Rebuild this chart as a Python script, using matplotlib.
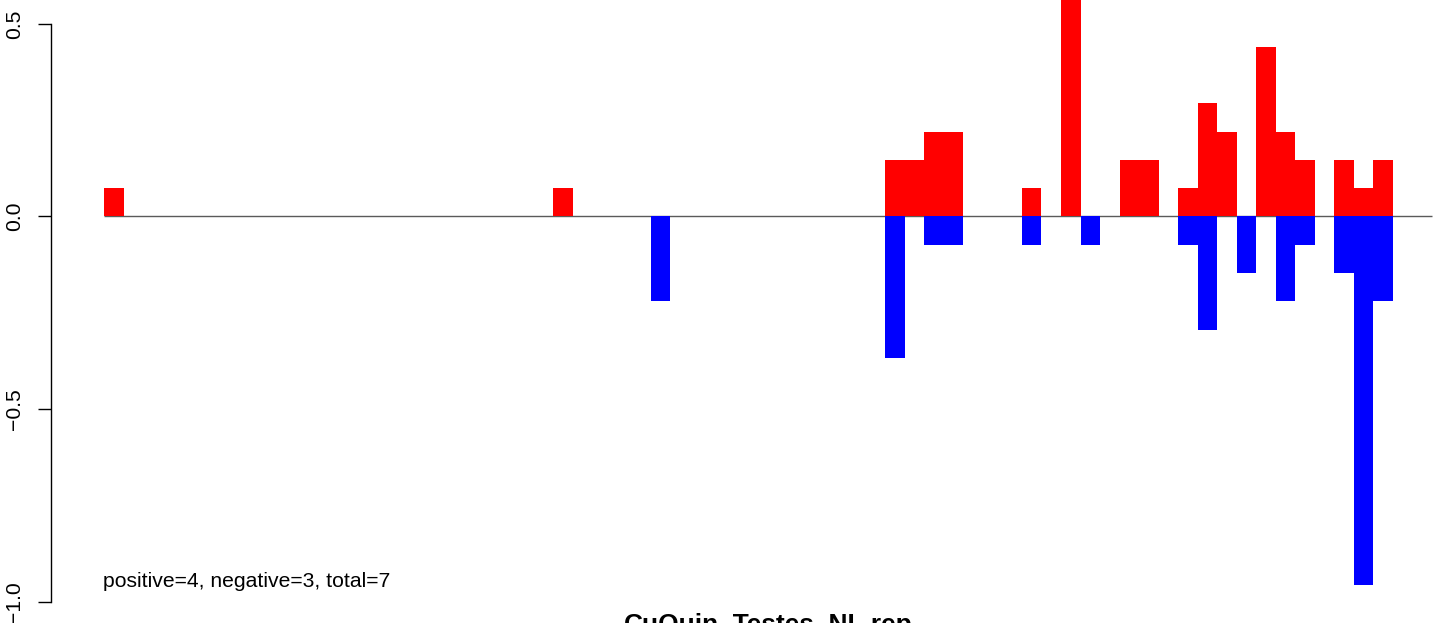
import matplotlib
matplotlib.use("Agg")
import matplotlib.pyplot as plt
import numpy as np

plt.rcParams['font.family'] = ['Liberation Sans', 'DejaVu Sans']

# bin index (0..67) and values
n_bins = 68
pos_bins = [0, 23, 40, 41, 42, 43, 47, 49, 52, 53, 55, 56, 57, 59, 60, 61, 63, 64, 65]
pos_vals = [0.0735, 0.0735, 0.147, 0.147, 0.2205, 0.2205, 0.0735, 0.588, 0.147, 0.147,
            0.0735, 0.294, 0.2205, 0.441, 0.2205, 0.147, 0.147, 0.0735, 0.147]
neg_bins = [28, 40, 42, 43, 47, 50, 55, 56, 58, 60, 61, 63, 64, 65]
neg_vals = [-0.2205, -0.3675, -0.0735, -0.0735, -0.0735, -0.0735, -0.0735, -0.294,
            -0.147, -0.2205, -0.0735, -0.147, -0.9555, -0.2205]
y_ticks = [-1.0, -0.5, 0.0, 0.5]
y_ticklabels = ["\u22121.0", "\u22120.5", "0.0", "0.5"]
title = "CuQuin_Testes_NL.rep"
note = "positive=4, negative=3, total=7"

W, H = 1444, 623
fig = plt.figure(figsize=(W / 100, H / 100), dpi=100)
left_px = 50.7
ax = fig.add_axes([left_px / W, 0, (W - left_px) / W, 1])
ax.set_ylim(-1.0549, 0.5618)
ax.set_xlim(-2.729, 68.61)

ax.plot([0, n_bins], [0, 0], color="#5a5a5a", lw=1.0, zorder=1, solid_capstyle='butt')
ax.bar(pos_bins, pos_vals, width=1.0, align='edge', color="#ff0000", linewidth=0, zorder=2)
ax.bar(neg_bins, neg_vals, width=1.0, align='edge', color="#0000ff", linewidth=0, zorder=2)

for s in ["top", "right", "bottom"]:
    ax.spines[s].set_visible(False)
ax.spines["left"].set_bounds(-1.0, 0.5)
ax.spines["left"].set_linewidth(1.0)
ax.set_xticks([])
ax.set_yticks(y_ticks)
ax.set_yticklabels(y_ticklabels, rotation=90, va="center", fontsize=15.2)
ax.tick_params(axis="y", length=9.4, width=1.0, pad=9.5, direction="out")

fig.text(103.3 / W, 1 - 586.7 / H, note, fontsize=15.2, ha="left", va="baseline")
fig.text(768 / W, 1 - 632 / H, title, fontsize=18.9, fontweight="bold", ha="center", va="baseline")

fig.savefig("out.png", dpi=100)
